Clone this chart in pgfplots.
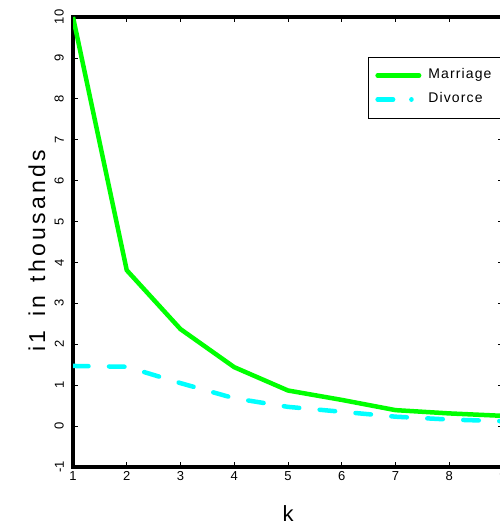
\documentclass[border=0pt]{standalone}
\usepackage{pgfplots}
\pgfplotsset{compat=1.18}
\usepackage{fontspec}
\setmainfont{Liberation Sans}
\newfontfamily\widefont{Liberation Sans}[LetterSpace=14]
\newfontfamily\legfont{Liberation Sans}[LetterSpace=8]
\definecolor{mgreen}{RGB}{0,255,0}
\definecolor{dcyan}{RGB}{0,255,255}

\begin{document}
\begin{tikzpicture}
\begin{axis}[
    scale only axis,
    width=430pt, height=450pt,
    xmin=1, xmax=9, ymin=-1, ymax=10,
    xtick={1,...,9}, ytick={-1,...,10},
    tick align=inside,
    major tick length=5pt,
    tick style={black, line width=0.7pt},
    axis line style={line width=3.5pt},
    /pgf/number format/assume math mode=true,
    tick label style={font=\fontsize{13}{15}\selectfont},
    xticklabel style={inner ysep=4pt},
    yticklabel style={rotate=90, anchor=south, inner xsep=0pt, inner ysep=9pt},
    xlabel={k},
    ylabel={i1\hspace{4pt} in\hspace{4pt} thousands},
    xlabel style={font=\widefont\fontsize{22}{24}\selectfont, at={(axis description cs:0.5,-0.103)}, anchor=center},
    ylabel style={font=\widefont\fontsize{23}{25}\selectfont, at={(axis description cs:-0.084,0.48)}, anchor=center},
    legend style={at={(axis description cs:0.686,0.912)}, anchor=north west,
        draw=black, line width=0.8pt, font=\legfont\fontsize{14}{16}\selectfont,
        nodes={inner sep=2pt, text height=10pt, text depth=3pt},
        row sep=7pt, column sep=5pt, inner xsep=7pt, inner ysep=10pt},
    legend cell align=left,
]
\addplot[mgreen, line width=4.5pt, line join=round,
    legend image code/.code={\draw[mgreen, line width=4.5pt, line cap=round] (2.25pt,0pt) -- (43.75pt,0pt);}]
coordinates {
    (1, 10.0)
    (2, 3.81)
    (3, 2.37)
    (4, 1.44)
    (5, 0.87)
    (6, 0.64)
    (7, 0.39)
    (8, 0.31)
    (9, 0.25)
};
\addlegendentry{Marriage}
\addplot[dcyan, line width=4.5pt, line cap=round, dash pattern=on 15.5pt off 20.5pt,
    legend image code/.code={\draw[dcyan, line width=4.5pt, line cap=round] (2.25pt,0pt) -- (18.75pt,0pt) (36pt,0pt) -- (36.1pt,0pt);}]
coordinates {
    (1, 1.47)
    (2, 1.45)
    (3, 1.05)
    (4, 0.68)
    (5, 0.47)
    (6, 0.35)
    (7, 0.23)
    (8, 0.16)
    (9, 0.12)
};
\addlegendentry{Divorce}
\coordinate (O) at (rel axis cs:0,0);
\coordinate (T) at (rel axis cs:1,1);
\end{axis}
\pgfresetboundingbox
\path ([shift={(-73pt,-59pt)}]O) rectangle ([shift={(-3pt,17pt)}]T);
\end{tikzpicture}
\end{document}
